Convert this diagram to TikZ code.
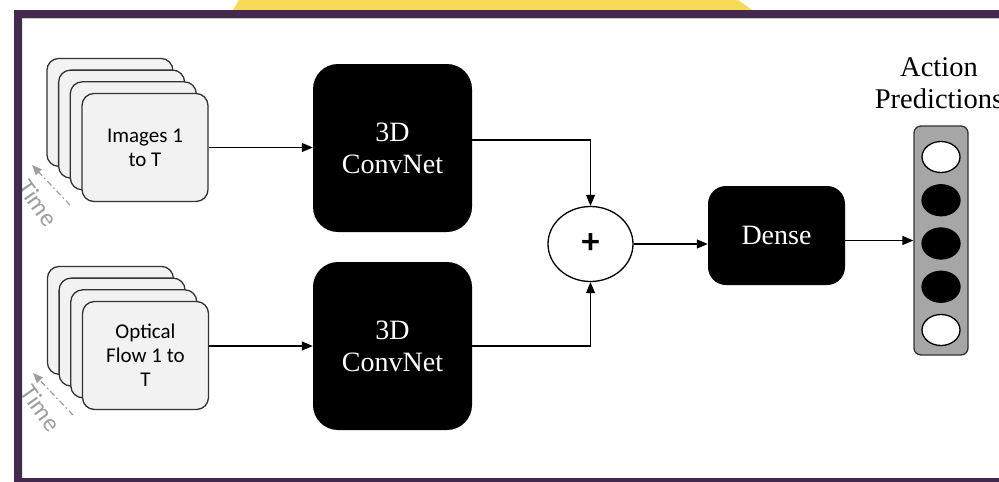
\documentclass[tikz,border=0pt]{standalone}
\usepackage{fontspec}
\setmainfont{Liberation Serif}
\newfontfamily\labelfont{Carlito}
\usetikzlibrary{arrows.meta,shapes.geometric}
\definecolor{framepurple}{HTML}{44294F}
\definecolor{tabyellow}{HTML}{F9DA56}
\definecolor{cardgrey}{HTML}{F2F2F2}
\definecolor{timegrey}{HTML}{9E9E9E}
\definecolor{predgrey}{HTML}{A6A6A6}

\tikzset{
	card/.style={draw=black!80, fill=cardgrey, rounded corners=12pt, line width=1.3pt,
		minimum width=126pt, minimum height=108pt, align=center,
		font=\labelfont\fontsize{21}{24}\selectfont},
	net/.style={fill=black, rounded corners=25pt, minimum width=159pt, minimum height=168pt,
		text=white, align=center, font=\fontsize{28}{32}\selectfont},
	conn/.style={line width=1.3pt, -{Triangle[length=11pt,width=9pt]}},
	timearrow/.style={draw=timegrey, line width=1.2pt, dash pattern=on 6pt off 3pt on 1.5pt off 3pt,
		-{Triangle[length=10pt,width=8pt]}},
	timelabel/.style={text=timegrey, font=\labelfont\fontsize{25}{28}\selectfont},
	unit/.style={ellipse, draw, line width=1.3pt, minimum width=38pt, minimum height=31pt, inner sep=0pt},
}

\begin{document}
\begin{tikzpicture}[x=1pt,y=-1pt]
	\useasboundingbox (0,0) rectangle (999,482);
	\clip (0,0) rectangle (999,482);
	\fill[white] (0,0) rectangle (999,482);
	\fill[tabyellow] (239,0) -- (738,0) -- (752,10) -- (233,10) -- cycle;

	% time arrows next to the stacks
	\coordinate (rgbtail) at (70,205);
	\coordinate (rgbtip) at (32,165);
	\coordinate (flowtail) at (73,415);
	\coordinate (flowtip) at (33,373);
	\draw[timearrow] (rgbtail) -- (rgbtip);
	\draw[timearrow] (flowtail) -- (flowtip);
	\node[timelabel, rotate=-55] (rgbtime) at (38,203) {Time};
	\node[timelabel, rotate=-55] (flowtime) at (41,408) {Time};

	% input stacks
	\foreach \k in {3,2,1} {
		\node[card] (img\k) at (145-11.7*\k,147.5-11.7*\k) {};
		\node[card] (flow\k) at (145.5-11.7*\k,355.5-11.7*\k) {};
	}
	\node[card] (img) at (145,147.5) {Images 1\\to T};
	\node[card] (flow) at (145.5,355.5) {Optical\\Flow 1 to\\T};

	% two streams
	\node[net] (rgbnet) at (392.5,148) {3D\\ConvNet};
	\node[net] (flownet) at (392.5,346) {3D\\ConvNet};

	\node[ellipse, draw, line width=1.3pt, minimum width=85pt, minimum height=75pt,
		font=\labelfont\bfseries\fontsize{36}{36}\selectfont] (sum) at (590.5,244) {+};
	\node[net, rounded corners=18pt, minimum width=137pt, minimum height=99pt] (dense) at (776.5,235.5) {Dense};

	% output vector
	\node[draw=black!80, fill=predgrey, rounded corners=7pt, line width=1.3pt,
		minimum width=54pt, minimum height=229pt] (pred) at (941,240.5) {};
	\foreach \c [count=\i] in {white,black,black,black,white}
		\node[unit, fill=\c] (out\i) at (941,157+43.25*\i-43.25) {};
	\node[align=center, anchor=base, font=\fontsize{28.5}{32}\selectfont] (predlabel) at (939,108) {Action\\Predictions};

	\draw[conn] (img.east) -- (img.east -| rgbnet.west);
	\draw[conn] (flow.east |- flownet.west) -- (flownet.west);
	\draw[conn] ([yshift=8pt]rgbnet.east) -| (sum.north);
	\draw[conn] (flownet.east) -| (sum.south);
	\draw[conn] (sum.east) -- (sum.east -| dense.west);
	\draw[conn] (dense.east |- pred.west) -- (pred.west);

	% frame
	\fill[framepurple, even odd rule] (14,10) rectangle (1000,482) (22,18) rectangle (1000,478);
	\draw[black!20, line width=1pt] (22,18.5) -- (999,18.5);
\end{tikzpicture}
\end{document}
